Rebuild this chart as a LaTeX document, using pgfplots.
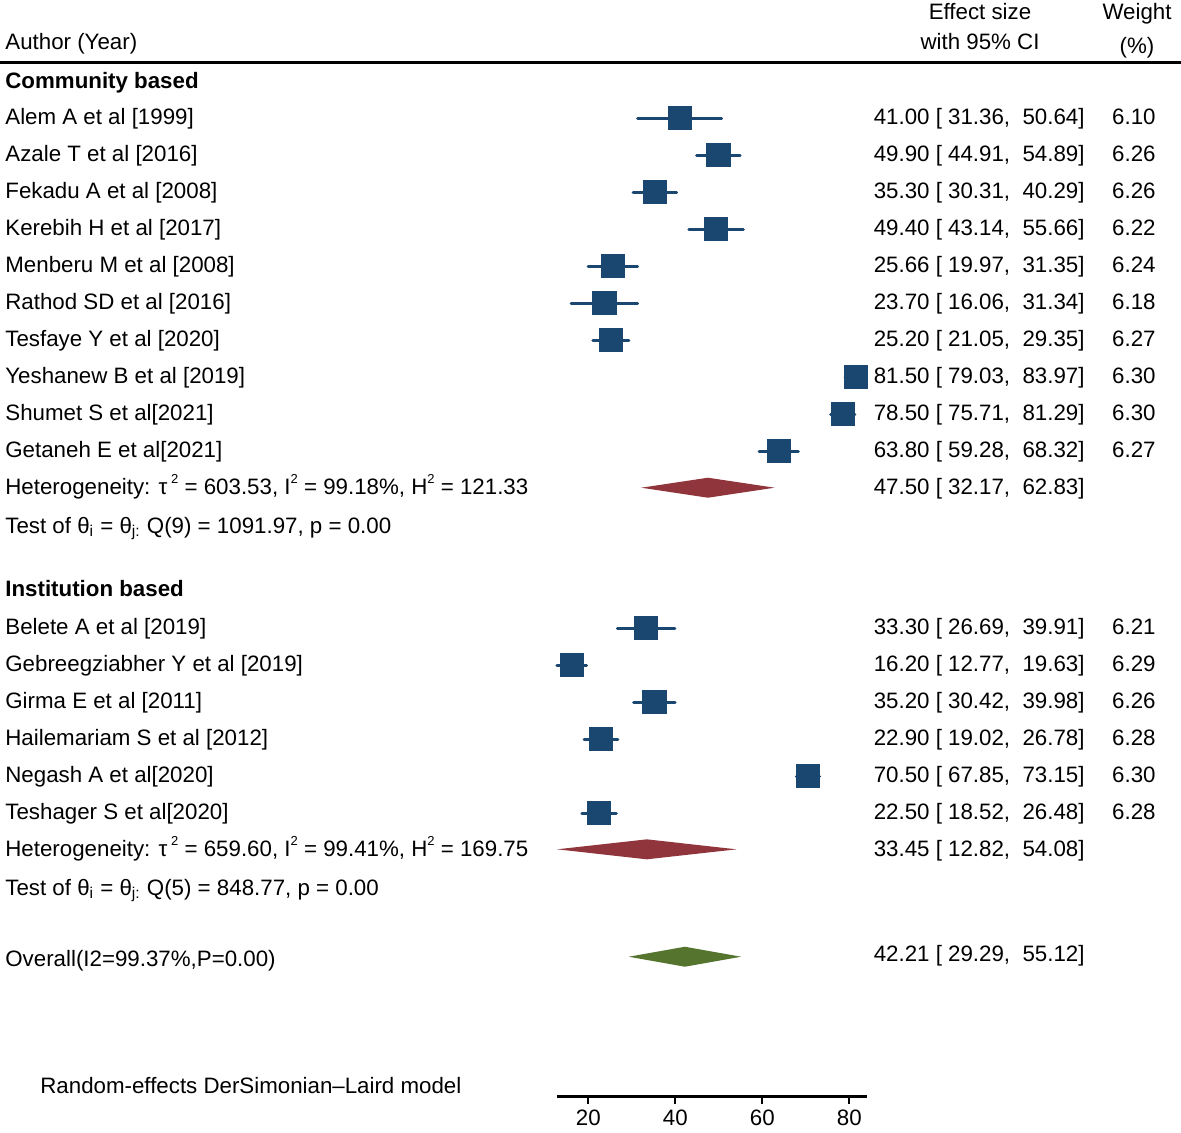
\documentclass[border=0pt]{standalone}
\usepackage{pgfplots}
\pgfplotsset{compat=1.18}
\usepackage{pgfplotstable}
\usepackage{fontspec}
\setmainfont{Liberation Sans}
\definecolor{sqblue}{RGB}{26,71,111}
\definecolor{dmaroon}{RGB}{144,53,59}
\definecolor{dgreen}{RGB}{85,117,47}
\newcommand\f{\fontsize{11.15}{13}\selectfont}
\newcommand\sq{\raisebox{0.9ex}{\fontsize{6.5}{7}\selectfont 2}}
\newcommand\row[4]{%
  \node[anchor=base west, inner sep=0] at (axis cs:-114.09,#1) {#2};
  \node[anchor=base east, inner sep=0] at (axis cs:134.18,#1) {#3};
  \node[anchor=base east, inner sep=0] at (axis cs:150.51,#1) {#4};}

% estimate, lower, upper, row position
\pgfplotstableread{
es    lo    hi    y
41.00 31.36 50.64 1014
49.90 44.91 54.89 977
35.30 30.31 40.29 940
49.40 43.14 55.66 903
25.66 19.97 31.35 866
23.70 16.06 31.34 829
25.20 21.05 29.35 792
81.50 79.03 83.97 755
78.50 75.71 81.29 718
63.80 59.28 68.32 681
}\community
\pgfplotstableread{
es    lo    hi    y
33.30 26.69 39.91 504
16.20 12.77 19.63 467
35.20 30.42 39.98 430
22.90 19.02 26.78 393
70.50 67.85 73.15 356
22.50 18.52 26.48 319
}\institution

\begin{document}
\begin{tikzpicture}[font=\f]
\begin{axis}[
  x=2.175pt, y=0.5pt,
  xmin=12.77, xmax=83.97, ymin=35.3, ymax=1132,
  enlargelimits=false, clip=false,
  axis x line=bottom, axis y line=none,
  axis line style={-, line width=1.3pt},
  xtick={20,40,60,80},
  tick align=outside, major tick length=3.5pt,
  every tick/.style={line width=1.1pt, black},
  /pgf/number format/assume math mode=true,
  xticklabel style={font=\f, yshift=0.5pt},
]
% study estimates with CIs
\addplot[only marks, mark=square*, mark size=5.8pt, color=sqblue,
  mark options={line width=0.4pt},
  error bars/.cd, x dir=both, x explicit, error mark=none,
  error bar style={line width=1.5pt, line cap=round, sqblue}]
  table[x=es, y=y, x error plus expr=\thisrow{hi}-\thisrow{es},
        x error minus expr=\thisrow{es}-\thisrow{lo}] {\community};
\addplot[only marks, mark=square*, mark size=5.8pt, color=sqblue,
  mark options={line width=0.4pt},
  error bars/.cd, x dir=both, x explicit, error mark=none,
  error bar style={line width=1.5pt, line cap=round, sqblue}]
  table[x=es, y=y, x error plus expr=\thisrow{hi}-\thisrow{es},
        x error minus expr=\thisrow{es}-\thisrow{lo}] {\institution};
% pooled diamonds
\addplot[fill=dmaroon, draw=none] coordinates {(32.17,644.3) (47.50,654.3) (62.83,644.3) (47.50,634.3)} -- cycle;
\addplot[fill=dmaroon, draw=none] coordinates {(12.82,282.7) (33.45,292.7) (54.08,282.7) (33.45,272.7)} -- cycle;
\addplot[fill=dgreen, draw=none] coordinates {(29.29,175.3) (42.21,185.3) (55.12,175.3) (42.21,165.3)} -- cycle;

% header
\node[anchor=base west, inner sep=0] at (axis cs:-114.09,1082) {Author (Year)};
\node[anchor=base, inner sep=0] at (axis cs:110.05,1112) {Effect size};
\node[anchor=base, inner sep=0] at (axis cs:110.05,1082) {with 95\% CI};
\node[anchor=base, inner sep=0] at (axis cs:146.14,1112) {Weight};
\node[anchor=base, inner sep=0] at (axis cs:146.14,1078) {(\%)};
\draw[line width=1.5pt] (axis cs:-115.24,1069.5) -- (axis cs:156.25,1069.5);

% community
\node[anchor=base west, inner sep=0] at (axis cs:-114.09,1044) {\bfseries Community based};
\row{1008}{Alem A et al [1999]}{41.00 [ 31.36,\ \ 50.64]}{6.10}
\row{971}{Azale T et al [2016]}{49.90 [ 44.91,\ \ 54.89]}{6.26}
\row{934}{Fekadu A et al [2008]}{35.30 [ 30.31,\ \ 40.29]}{6.26}
\row{897}{Kerebih H et al [2017]}{49.40 [ 43.14,\ \ 55.66]}{6.22}
\row{860}{Menberu M et al [2008]}{25.66 [ 19.97,\ \ 31.35]}{6.24}
\row{823}{Rathod SD et al [2016]}{23.70 [ 16.06,\ \ 31.34]}{6.18}
\row{786}{Tesfaye Y et al [2020]}{25.20 [ 21.05,\ \ 29.35]}{6.27}
\row{749}{Yeshanew B et al [2019]}{81.50 [ 79.03,\ \ 83.97]}{6.30}
\row{712}{Shumet S et al[2021]}{78.50 [ 75.71,\ \ 81.29]}{6.30}
\row{675}{Getaneh E et al[2021]}{63.80 [ 59.28,\ \ 68.32]}{6.27}
\node[anchor=base west, inner sep=0] at (axis cs:-114.09,638) {Heterogeneity: τ\,\sq\ = 603.53, I\sq\ = 99.18\%, H\sq\ = 121.33};
\node[anchor=base east, inner sep=0] at (axis cs:134.18,638) {47.50 [ 32.17,\ \ 62.83]};
\node[anchor=base west, inner sep=0] at (axis cs:-114.09,599) {Test of θ\textsubscript{i} = θ\textsubscript{j:} Q(9) = 1091.97, p = 0.00};

% institution
\node[anchor=base west, inner sep=0] at (axis cs:-114.09,536) {\bfseries Institution based};
\row{498}{Belete A et al [2019]}{33.30 [ 26.69,\ \ 39.91]}{6.21}
\row{461}{Gebreegziabher Y et al [2019]}{16.20 [ 12.77,\ \ 19.63]}{6.29}
\row{424}{Girma E et al [2011]}{35.20 [ 30.42,\ \ 39.98]}{6.26}
\row{387}{Hailemariam S et al [2012]}{22.90 [ 19.02,\ \ 26.78]}{6.28}
\row{350}{Negash A et al[2020]}{70.50 [ 67.85,\ \ 73.15]}{6.30}
\row{313}{Teshager S et al[2020]}{22.50 [ 18.52,\ \ 26.48]}{6.28}
\node[anchor=base west, inner sep=0] at (axis cs:-114.09,276) {Heterogeneity: τ\,\sq\ = 659.60, I\sq\ = 99.41\%, H\sq\ = 169.75};
\node[anchor=base east, inner sep=0] at (axis cs:134.18,276) {33.45 [ 12.82,\ \ 54.08]};
\node[anchor=base west, inner sep=0] at (axis cs:-114.09,237) {Test of θ\textsubscript{i} = θ\textsubscript{j:} Q(5) = 848.77, p = 0.00};

\node[anchor=base west, inner sep=0] at (axis cs:-114.09,166) {Overall(I2=99.37\%,P=0.00)};
\node[anchor=base east, inner sep=0] at (axis cs:134.18,171) {42.21 [ 29.29,\ \ 55.12]};

\node[anchor=base west, inner sep=0] at (axis cs:-106.05,39) {Random-effects DerSimonian–Laird model};

\coordinate (BL) at (axis cs:-115.24,0);
\coordinate (TR) at (axis cs:156.25,1132);
\end{axis}
\pgfresetboundingbox
\path[use as bounding box] (BL) rectangle (TR);
\end{tikzpicture}
\end{document}
